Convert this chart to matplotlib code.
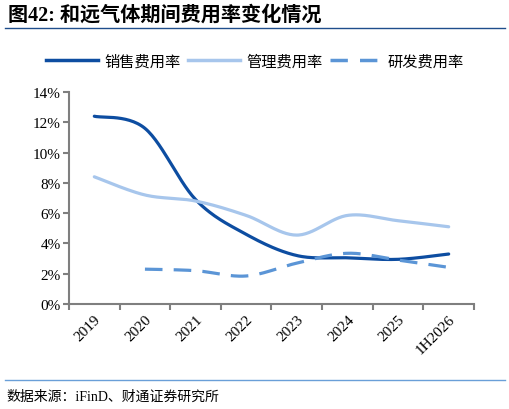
import matplotlib.pyplot as plt
import numpy as np
from matplotlib.lines import Line2D

plt.rcParams['font.family'] = ['Liberation Serif', 'Noto Sans CJK SC']

# Data, % of revenue
years = ['2019', '2020', '2021', '2022', '2023', '2024', '2025', '1H2026']
sales_rate = [12.4, 11.6, 6.9, 4.6, 3.2, 3.05, 2.95, 3.3]
admin_rate = [8.4, 7.2, 6.8, 5.85, 4.55, 5.85, 5.5, 5.1]
rd_rate = [None, 2.3, 2.2, 1.85, 2.7, 3.35, 2.9, 2.42]

title = '图42: 和远气体期间费用率变化情况'
source = '数据来源：iFinD、财通证券研究所'
series_names = ['销售费用率', '管理费用率', '研发费用率']
colors = ['#0D4DA1', '#A7C6EC', '#5B95D6']


def smooth(xs, ys, n=30):
    # bezier smoothing the way Excel draws "smoothed line"
    xs = np.asarray(xs, float)
    ys = np.asarray(ys, float)
    px = np.concatenate([[xs[0]], xs, [xs[-1]]])
    py = np.concatenate([[ys[0]], ys, [ys[-1]]])
    ox, oy = [], []
    t = np.linspace(0, 1, n)
    for i in range(1, len(px) - 2):
        for p, o in ((px, ox), (py, oy)):
            p0, p1, p2, p3 = p[i - 1], p[i], p[i + 1], p[i + 2]
            c1 = p1 + (p2 - p0) / 6
            c2 = p2 - (p3 - p1) / 6
            o.extend((1 - t) ** 3 * p1 + 3 * (1 - t) ** 2 * t * c1
                     + 3 * (1 - t) * t ** 2 * c2 + t ** 3 * p2)
    return np.array(ox), np.array(oy)


fig = plt.figure(figsize=(5.1, 4.1), dpi=100)
ax = fig.add_axes([69 / 510, 1 - 305 / 410, (474 - 69) / 510, (305 - 93) / 410])

x = np.arange(len(years))
for vals, c, ls in zip([sales_rate, admin_rate, rd_rate], colors, ['-', '-', '--']):
    pts = [(xi, v) for xi, v in zip(x, vals) if v is not None]
    sx, sy = smooth([p[0] for p in pts], [p[1] for p in pts])
    line, = ax.plot(sx, sy, color=c, lw=2.3, ls=ls, solid_capstyle='round')
    if ls == '--':
        line.set_dashes((5.5, 3.5))

ax.set_xlim(-0.5, len(years) - 0.5)
ax.set_ylim(0, 14)
ax.set_yticks(np.arange(0, 15, 2))
ax.set_yticklabels([f'{v}%' for v in range(0, 15, 2)], fontsize=11)
ax.set_xticks(x)
ax.set_xticklabels(years, rotation=45, ha='right', rotation_mode='anchor', fontsize=11)
ax.tick_params(axis='x', which='major', length=0, pad=6)
ax.set_xticks(np.arange(-0.5, len(years)), minor=True)
ax.tick_params(axis='x', which='minor', length=4, width=1.5, color='#7f7f7f')
ax.tick_params(axis='y', length=4, width=1.5, color='#7f7f7f', pad=2)
for s in ['top', 'right']:
    ax.spines[s].set_visible(False)
for s in ['left', 'bottom']:
    ax.spines[s].set_color('#7f7f7f')
    ax.spines[s].set_linewidth(1.5)

handles = [Line2D([], [], color=colors[0], lw=2.5),
           Line2D([], [], color=colors[1], lw=2.5),
           Line2D([], [], color=colors[2], lw=2.5, dashes=(5, 3.5))]
fig.legend(handles, series_names, loc='center', bbox_to_anchor=(0.5, 1 - 62 / 410),
           ncol=3, frameon=False, handlelength=3.4,
           handletextpad=0.4, columnspacing=0.5, prop={'family': 'Noto Sans CJK SC', 'size': 11})

fig.text(8 / 510, 1 - 16 / 410, title, fontsize=14.5, fontweight='bold', va='center',
         family=['Liberation Serif', 'Noto Sans CJK SC'])
fig.add_artist(Line2D([5 / 510, 505 / 510], [1 - 29 / 410] * 2, color='#1F4E8C', lw=1))
fig.add_artist(Line2D([5 / 510, 505 / 510], [1 - 381 / 410] * 2, color='#6A9FD8', lw=1))
fig.text(6 / 510, 1 - 397 / 410, source, fontsize=10, va='center',
         family=['Liberation Serif', 'Noto Sans CJK SC'])

fig.savefig('out.png', dpi=100)
